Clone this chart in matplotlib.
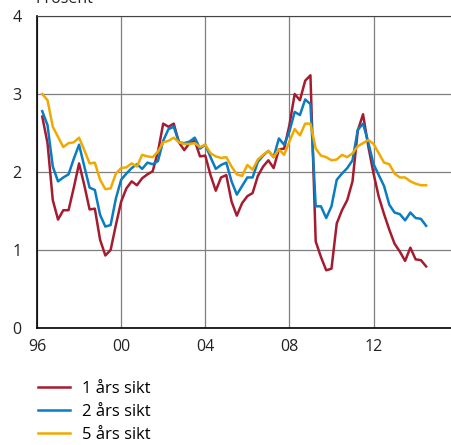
import numpy as np
import matplotlib
matplotlib.use("Agg")
from matplotlib import pyplot as plt

plt.rcParams['font.family'] = ['Open Sans', 'DejaVu Sans']

# quarterly, 1996Q2 - 2014Q3
years = 1996.25 + 0.25 * np.arange(74)

one_year = [2.71, 2.37, 1.64, 1.39, 1.51, 1.51, 1.80, 2.11, 1.83, 1.52, 1.53, 1.13,
            0.93, 1.00, 1.32, 1.62, 1.79, 1.88, 1.83, 1.92, 1.97, 2.01, 2.26, 2.62,
            2.58, 2.62, 2.38, 2.28, 2.37, 2.40, 2.20, 2.21, 1.96, 1.76, 1.93, 1.96,
            1.62, 1.44, 1.60, 1.69, 1.73, 1.95, 2.07, 2.15, 2.05, 2.29, 2.30, 2.60,
            3.00, 2.92, 3.17, 3.24, 1.11, 0.91, 0.74, 0.76, 1.34, 1.51, 1.64, 1.88,
            2.53, 2.74, 2.33, 1.98, 1.68, 1.46, 1.26, 1.08, 0.98, 0.86, 1.03, 0.88,
            0.87, 0.79]
two_year = [2.78, 2.60, 2.07, 1.88, 1.93, 1.97, 2.17, 2.35, 2.07, 1.80, 1.77, 1.45,
            1.30, 1.32, 1.66, 1.90, 1.98, 2.05, 2.10, 2.04, 2.12, 2.10, 2.14, 2.40,
            2.55, 2.58, 2.38, 2.37, 2.39, 2.44, 2.30, 2.35, 2.19, 2.04, 2.09, 2.12,
            1.88, 1.71, 1.82, 1.93, 1.93, 2.13, 2.21, 2.27, 2.19, 2.43, 2.35, 2.52,
            2.77, 2.73, 2.93, 2.87, 1.56, 1.56, 1.41, 1.56, 1.90, 1.98, 2.05, 2.15,
            2.54, 2.62, 2.38, 2.10, 1.96, 1.82, 1.58, 1.48, 1.46, 1.38, 1.48, 1.41,
            1.40, 1.31]
five_year = [3.00, 2.92, 2.58, 2.45, 2.32, 2.37, 2.38, 2.44, 2.28, 2.11, 2.12, 1.90,
             1.78, 1.79, 1.98, 2.05, 2.06, 2.11, 2.07, 2.22, 2.20, 2.19, 2.26, 2.38,
             2.40, 2.44, 2.38, 2.36, 2.36, 2.37, 2.32, 2.35, 2.24, 2.20, 2.18, 2.19,
             2.07, 1.97, 1.95, 2.09, 2.03, 2.16, 2.22, 2.27, 2.19, 2.29, 2.22, 2.39,
             2.55, 2.47, 2.62, 2.62, 2.30, 2.21, 2.19, 2.15, 2.16, 2.22, 2.19, 2.24,
             2.33, 2.37, 2.41, 2.36, 2.24, 2.12, 2.10, 1.98, 1.93, 1.93, 1.88, 1.85,
             1.83, 1.83]

labels = ['1 års sikt', '2 års sikt', '5 års sikt']
colors = ['#a51c30', '#0a7cc1', '#f1a900']
x_ticks = [1996, 2000, 2004, 2008, 2012]
x_ticklabels = ['96', '00', '04', '08', '12']

fig = plt.figure(figsize=(4.52, 4.45), dpi=100)
ax = fig.add_axes([37 / 452, 1 - 328 / 445, 1 - 37 / 452, 312 / 445])

for series, label, color in zip([one_year, two_year, five_year], labels, colors):
    ax.plot(years, series, color=color, lw=1.8, label=label, zorder=3)

ax.set_xlim(1996, 2015.73)
ax.set_ylim(0, 4)
ax.set_xticks(x_ticks)
ax.set_xticklabels(x_ticklabels)
ax.set_yticks([0, 1, 2, 3, 4])
ax.grid(True, color='#7f7f7f', lw=0.9)
ax.tick_params(length=0, labelsize=11.5, colors='#222222')
ax.tick_params(axis='x', pad=8)
ax.tick_params(axis='y', pad=11)

ax.spines['right'].set_visible(False)
ax.spines['top'].set_color('#444444')
ax.spines['left'].set_color('black')
ax.spines['bottom'].set_color('black')
ax.spines['left'].set_linewidth(1.2)
ax.spines['bottom'].set_linewidth(1.2)

fig.text(36 / 452, 1 - 3 / 445, 'Prosent', fontsize=11.5, color='#222222',
         va='baseline', ha='left')

fig.legend(loc='upper left', bbox_to_anchor=(38 / 452, 1 - 381 / 445),
           frameon=False, fontsize=12, handlelength=1.9, handletextpad=0.75,
           labelspacing=0.42, borderpad=0, borderaxespad=0)

fig.savefig('out.png', dpi=100)
